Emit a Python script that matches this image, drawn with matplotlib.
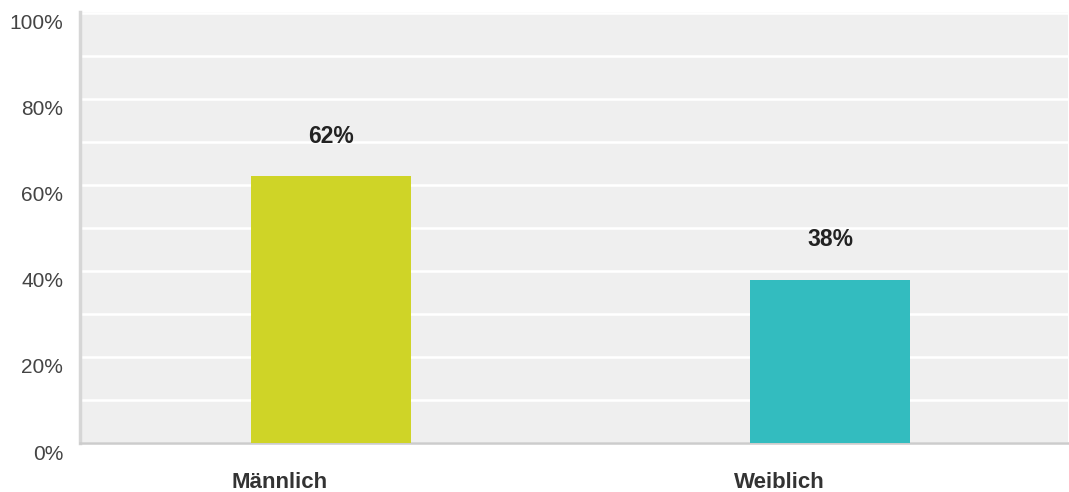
import matplotlib.pyplot as plt
import matplotlib.transforms as mtransforms
from matplotlib.ticker import MultipleLocator

plt.rcParams['font.family'] = ['Liberation Sans', 'DejaVu Sans']

# data
categories = ['Männlich', 'Weiblich']
values = [62, 38]
bar_colors = ['#cfd427', '#33bcbf']
ytick_values = [0, 20, 40, 60, 80, 100]
ytick_labels = ['0%', '20%', '40%', '60%', '80%', '100%']

fig = plt.figure(figsize=(10.69, 4.92), dpi=100)
ax = fig.add_axes([80 / 1069, 49 / 492, 988 / 1069, 431 / 492])
ax.set_facecolor('#efefef')

x = list(range(len(categories)))
ax.bar(x, values, width=0.32, color=bar_colors, zorder=3)

# value labels above the bars
for xi, v in zip(x, values):
    ax.annotate(f'{v}%', (xi, v), xytext=(0, 29), textcoords='offset points',
                ha='center', va='center', fontsize=16.5, fontweight='bold',
                color='#222222')

ax.set_xlim(-0.503, 1.477)
ax.set_ylim(0, 100.2)

# white grid every 10%
ax.yaxis.set_minor_locator(MultipleLocator(10))
ax.grid(True, axis='y', which='both', color='white', linewidth=1.8, zorder=1)
ax.set_axisbelow(True)

ax.set_yticks(ytick_values)
ax.set_yticklabels(ytick_labels, fontsize=15, color='#444444')
ax.tick_params(axis='y', which='both', length=0, pad=12)
# labels sit a bit below their grid lines in the reference
down = mtransforms.ScaledTranslation(0, -0.09, fig.dpi_scale_trans)
for lab in ax.get_yticklabels():
    lab.set_transform(lab.get_transform() + down)

ax.set_xticks(x)
ax.set_xticklabels(categories, fontsize=16, fontweight='bold', color='#333333')
ax.tick_params(axis='x', length=0, pad=21)
left = mtransforms.ScaledTranslation(-0.51, 0, fig.dpi_scale_trans)
for lab in ax.get_xticklabels():
    lab.set_transform(lab.get_transform() + left)

for side in ['top', 'right']:
    ax.spines[side].set_visible(False)
ax.spines['left'].set_color('#d6d6d6')
ax.spines['left'].set_linewidth(2.5)
ax.spines['bottom'].set_color('#cccccc')
ax.spines['bottom'].set_linewidth(1.8)

plt.savefig('out.png', dpi=100, facecolor='white')
